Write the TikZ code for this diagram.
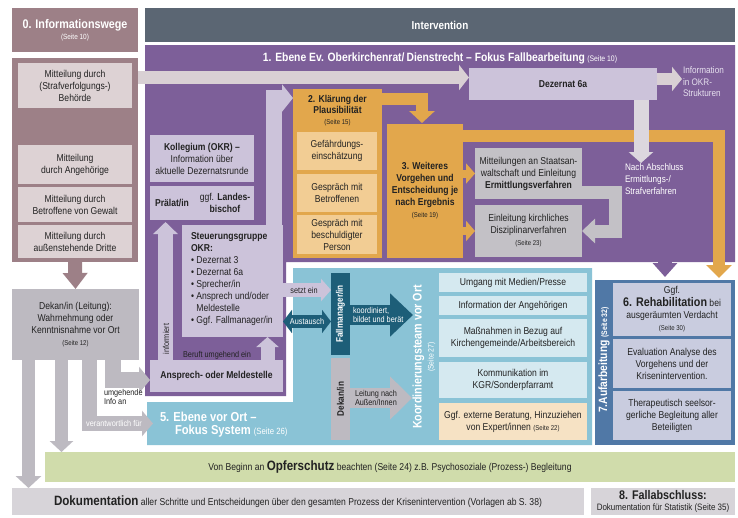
\documentclass[tikz,border=0pt]{standalone}
\usepackage{fontspec}
\setmainfont{Liberation Sans}[FakeStretch=0.86]
\usetikzlibrary{arrows.meta,calc}
\definecolor{mauve}{HTML}{9D8087}
\definecolor{mauvelt}{HTML}{DDD2D4}
\definecolor{slate}{HTML}{5B6673}
\definecolor{purp}{HTML}{7D5F99}
\definecolor{lav}{HTML}{CCC3DA}
\definecolor{bandc}{HTML}{D9D0D4}
\definecolor{bandd}{HTML}{DCD7DE}
\definecolor{orng}{HTML}{E2A74C}
\definecolor{orngl}{HTML}{F2CD94}
\definecolor{greyb}{HTML}{C3C1C6}
\definecolor{dekg}{HTML}{BDBAC1}
\definecolor{blu}{HTML}{8AC3D6}
\definecolor{blul}{HTML}{D5E9F0}
\definecolor{peach}{HTML}{F6E2C4}
\definecolor{dteal}{HTML}{1D5E78}
\definecolor{steel}{HTML}{5078A6}
\definecolor{rehab}{HTML}{C9CCDF}
\definecolor{grn}{HTML}{D0DCAB}
\definecolor{dokg}{HTML}{D7D4D9}
\definecolor{txt}{HTML}{222222}
\definecolor{lighttxt}{HTML}{E6E0EE}
\newcommand{\seitefnt}{\fontsize{7}{8}\selectfont}
\newcommand{\mkbox}[7]{\node[bx,#6,anchor=north west,minimum width={(#4-#2)*1pt},minimum height={(#5-#3)*1pt}] (#1) at (#2,#3) {#7};}
\begin{document}
\begin{tikzpicture}[x=1pt,y=-1pt,
  bx/.style={inner sep=0pt,outer sep=0pt,align=center,font=\fontsize{10}{12}\selectfont,text=txt},
  lbl/.style={inner sep=0pt,outer sep=0pt,font=\fontsize{8.5}{9.5}\selectfont,text=txt},
  blk/.style args={#1/#2/#3}{line width=#1pt,-{Triangle[width=#2pt,length=#3pt]}},
]
\useasboundingbox[fill=white] (0,0) rectangle (738,517);

% ---------- column 0
\mkbox{info0}{12}{8}{138}{52}{fill=mauve,text=white}{{\fontsize{12.5}{14}\selectfont\bfseries 0. Informationswege}\\[-1pt]{\fontsize{7.5}{9}\selectfont (Seite 10)}}
\mkbox{interv}{145}{8}{735}{42}{fill=slate,text=white,font=\fontsize{11.5}{14}\selectfont\bfseries}{Intervention}
\mkbox{infocol}{12}{58}{138}{262}{fill=mauve}{}
\mkbox{m1}{18}{63}{132}{108}{fill=mauvelt}{Mitteilung durch\\(Strafverfolgungs-)\\Behörde}
\mkbox{m2}{18}{145}{132}{184}{fill=mauvelt}{Mitteilung\\durch Angehörige}
\mkbox{m3}{18}{187}{132}{222}{fill=mauvelt}{Mitteilung durch\\Betroffene von Gewalt}
\mkbox{m4}{18}{225}{132}{258}{fill=mauvelt}{Mitteilung durch\\außenstehende Dritte}
\mkbox{dekan}{12}{289}{139}{360}{fill=dekg}{Dekan/in (Leitung):\\Wahrnehmung oder\\Kenntnisnahme vor Ort\\{\seitefnt (Seite 12)}}

% ---------- backgrounds
\fill[purp] (145,45) -- (735,45) -- (735,262) -- (286,262) -- (286,396) -- (145,396) -- cycle;
\fill[blu] (293,268) -- (592,268) -- (592,445) -- (147,445) -- (147,402) -- (293,402) -- cycle;
\node[bx,text=white] (t1) at (440,58) {{\fontsize{12}{14}\selectfont\bfseries 1. Ebene Ev. Oberkirchenrat/\,Dienstrecht – Fokus Fallbearbeitung} {\fontsize{8}{9}\selectfont (Seite 10)}};

% ---------- OKR level
\mkbox{dez}{469}{68}{657}{100}{fill=lav,font=\fontsize{10}{12}\selectfont\bfseries}{Dezernat 6a}
\node[lbl,anchor=north west,align=left,text=lighttxt,font=\fontsize{9.5}{11.5}\selectfont] (okr) at (683,67) {Information\\in OKR-\\Strukturen};
\node[lbl,anchor=north west,align=left,text=white,font=\fontsize{9.5}{12}\selectfont] (nach) at (625,164) {Nach Abschluss\\Ermittlungs-/\\Strafverfahren};

\mkbox{k2}{293}{89}{382}{258}{fill=orng}{}
\node[bx,font=\fontsize{10}{11}\selectfont\bfseries] (k2t) at (337.5,111) {2. Klärung der\\Plausibilität\\{\seitefnt\mdseries (Seite 15)}};
\mkbox{g1}{297}{132}{377}{170}{fill=orngl}{Gefährdungs-\\einschätzung}
\mkbox{g2}{297}{174}{377}{212}{fill=orngl}{Gespräch mit\\Betroffenen}
\mkbox{g3}{297}{215}{377}{254}{fill=orngl}{Gespräch mit\\beschuldigter\\Person}
\mkbox{k3}{387}{124}{463}{258}{fill=orng}{\bfseries 3. Weiteres\\\bfseries Vorgehen und\\\bfseries Entscheidung je\\\bfseries nach Ergebnis\\{\seitefnt (Seite 19)}}
\mkbox{e1}{475}{148}{582}{199}{fill=greyb}{Mitteilungen an Staatsan-\\waltschaft und Einleitung\\\textbf{Ermittlungsverfahren}}
\mkbox{e2}{475}{205}{582}{257}{fill=greyb}{Einleitung kirchliches\\Disziplinarverfahren\\{\seitefnt (Seite 23)}}

\mkbox{kol}{150}{135}{254}{182}{fill=lav}{\textbf{Kollegium (OKR) –}\\Information über\\aktuelle Dezernatsrunde}
\mkbox{pra}{150}{186}{254}{220}{fill=lav}{}
\node[bx,font=\fontsize{10}{12}\selectfont\bfseries] (pral) at (172,203) {Prälat/in};
\node[bx] (lb) at (225,203) {ggf. \textbf{Landes-}\\\textbf{bischof}};
\mkbox{stg}{182}{225}{283}{337}{fill=lav}{}
\node[bx,anchor=north west,align=left] (stgt) at (191,233) {\textbf{Steuerungsgruppe}\\\textbf{OKR:}\\• Dezernat 3\\• Dezernat 6a\\• Sprecher/in\\• Ansprech und/oder\\\phantom{• }Meldestelle\\• Ggf. Fallmanager/in};
\mkbox{ans}{150}{360}{283}{392}{fill=lav,font=\fontsize{10}{12}\selectfont\bfseries}{Ansprech- oder Meldestelle}
\node[lbl] (beruft) at (217,355) {Beruft umgehend ein};

% ---------- local level
\mkbox{fm}{331}{273}{350}{355}{fill=dteal}{}
\node[bx,rotate=90,text=white,font=\fontsize{9.5}{11}\selectfont\bfseries] at (fm.center) {Fallmanager/in};
\mkbox{dk}{331}{358}{350}{440}{fill=dekg}{}
\node[bx,rotate=90,font=\fontsize{9.5}{11}\selectfont\bfseries] at (dk.center) {Dekan/in};
\node[bx,rotate=90,text=white,font=\fontsize{12.5}{12}\selectfont\bfseries] (kt) at (424,357) {Koordinierungsteam vor Ort\\{\fontsize{8}{9}\selectfont\mdseries (Seite 27)}};
\mkbox{r1}{439}{273}{587}{292}{fill=blul}{Umgang mit Medien/Presse}
\mkbox{r2}{439}{296}{587}{315}{fill=blul}{Information der Angehörigen}
\mkbox{r3}{439}{319}{587}{357}{fill=blul}{Maßnahmen in Bezug auf\\Kirchengemeinde/Arbeitsbereich}
\mkbox{r4}{439}{362}{587}{398}{fill=blul}{Kommunikation im\\KGR/Sonderpfarramt}
\mkbox{r5}{439}{403}{587}{440}{fill=peach}{Ggf. externe Beratung, Hinzuziehen\\von Expert/innen {\seitefnt (Seite 22)}}
\node[bx,anchor=west,text=white,font=\fontsize{13}{15}\selectfont\bfseries] (e5a) at (160,417) {5. Ebene vor Ort –};
\node[bx,anchor=west,text=white,font=\fontsize{13}{15}\selectfont\bfseries] (e5b) at (175,431) {Fokus System {\fontsize{9}{10}\selectfont\mdseries (Seite 26)}};

% ---------- Aufarbeitung
\mkbox{auf}{595}{280}{735}{445}{fill=steel}{}
\node[bx,rotate=90,text=white] (auft) at (604,360) {{\fontsize{12}{14}\selectfont\bfseries 7.Aufarbeitung} {\fontsize{8}{9}\selectfont\bfseries (Seite 32)}};
\mkbox{a1}{613}{283}{731}{336}{fill=rehab}{Ggf.\\[1pt]{\fontsize{12.5}{13}\selectfont\bfseries 6. Rehabilitation} bei\\ausgeräumten Verdacht\\{\seitefnt (Seite 30)}}
\mkbox{a2}{613}{339}{731}{388}{fill=rehab}{Evaluation Analyse des\\Vorgehens und der\\Krisenintervention.}
\mkbox{a3}{613}{391}{731}{440}{fill=rehab}{Therapeutisch seelsor-\\gerliche Begleitung aller\\Beteiligten}

% ---------- bottom
\mkbox{grn}{45}{452}{735}{482}{fill=grn,font=\fontsize{10}{11}\selectfont}{Von Beginn an {\fontsize{13.5}{14}\selectfont\bfseries Opferschutz} beachten (Seite 24) z.B. Psychosoziale (Prozess-) Begleitung}
\mkbox{dok}{12}{488}{584}{515}{fill=dokg,font=\fontsize{10}{11}\selectfont}{{\fontsize{13.5}{14}\selectfont\bfseries Dokumentation} aller Schritte und Entscheidungen über den gesamten Prozess der Krisenintervention (Vorlagen ab S. 38)}
\mkbox{fall}{591}{488}{735}{515}{fill=dokg}{{\fontsize{12.5}{12}\selectfont\bfseries 8. Fallabschluss:}\\[-1pt]{\fontsize{9.3}{10}\selectfont Dokumentation für Statistik (Seite 35)}}

% ---------- connectors
\draw[mauve,blk=14/24/16] (infocol.south) -- (dekan.north);
\coordinate (bh) at ($(m1.north east)+(6,14.5)$);
\draw[bandc,blk=13/25/10] (bh) -- (bh -| dez.west);
\coordinate (dr) at ($(dez.east)+(0,-5)$);
\draw[bandc,blk=12/24/10] (dr) -- ++(25,0);
\draw[orng,blk=12/25/12] ($(k2.north east)+(0,10)$) -| ($(k3.north west)+(35,-1)$);
\draw[orng,blk=12/25/13] ($(k3.north east)+(0,12)$) -| ($(auf.north west)+(124,-2)$);
\coordinate (dd) at ($(dez.south)+(78,0)$);
\draw[bandd,blk=15/24/11] (dd) -- ++(0,63);
\draw[orng,blk=8/20/9] (k3.east |- e1.west) -- (e1.west);
\draw[orng,blk=8/20/9] (k3.east |- e2.west) -- (e2.west);
\draw[greyb,line width=13pt,-{Triangle[width=24pt,length=13pt]}] ($(e1.south east)+(0,-6.5)$) -| ($(e2.east)+(33,0)$) -- (e2.east);
\coordinate (pd) at (665,256);
\draw[purp,blk=14/24/14] (pd) -- ($(pd |- auf.north)+(0,-3)$);

\draw[lav,blk=16/27/11] ($(stg.north east)+(-9,0)$) |- ($(k2.north west)+(0,9)$);
\draw[lav,blk=15/24/12] ($(ans.north west)+(15.5,0)$) -- ($(pra.south west)+(15.5,2)$);
\node[lbl,rotate=90] (inf) at (166,339) {informiert};
\draw[lav,blk=14/22/10] ($(ans.north east)+(-15.5,0)$) -- ($(stg.south east)+(-15.5,0)$);

\coordinate (sz) at ($(stg.east)+(0,9)$);
\draw[lav,blk=14/22/10] (sz) -- (sz -| fm.west);
\node[lbl] at ($(sz)+(21,0)$) {setzt ein};
\coordinate (au) at ($(stg.east)+(0,40.5)$);
\draw[dteal,line width=13pt,{Triangle[width=23pt,length=9pt]}-{Triangle[width=23pt,length=9pt]}] (au) -- (au -| fm.west);
\node[lbl,text=white] at ($(au)+(24,0)$) {Austausch};
\coordinate (ko) at ($(fm.east)+(0,1)$);
\draw[dteal,blk=20/42/23] (ko) -- ++(63,0);
\node[lbl,anchor=west,align=left,text=white] at ($(ko)+(3,0)$) {koordiniert,\\bildet und berät};
\coordinate (le) at ($(dk.east)+(0,-1)$);
\draw[dekg,blk=20/42/22] (le) -- ++(62,0);
\node[lbl,anchor=west,align=left] at ($(le)+(5,0)$) {Leitung nach\\Außen/Innen};

\coordinate (da1) at ($(dekan.south west)+(16.5,0)$);
\draw[dekg,blk=13/25/12] (da1) -- (da1 |- dok.north);
\coordinate (da2) at ($(dekan.south west)+(49.5,0)$);
\draw[dekg,blk=13/23/11] (da2) -- (da2 |- grn.north);
\coordinate (da3) at ($(dekan.south west)+(77.5,0)$);
\coordinate (e5tip) at (153,423.5);
\draw[dekg,blk=15/25/11] (da3) |- (e5tip);
\node[lbl,text=white] at (114,423.5) {verantwortlich für};
\coordinate (da4) at ($(dekan.south west)+(100.5,0)$);
\draw[dekg,blk=16/26/11] (da4) |- ($(ans.west)+(0,4)$);
\node[lbl,anchor=north west,align=left] at (104,389) {umgehende\\Info an};
\end{tikzpicture}
\end{document}
